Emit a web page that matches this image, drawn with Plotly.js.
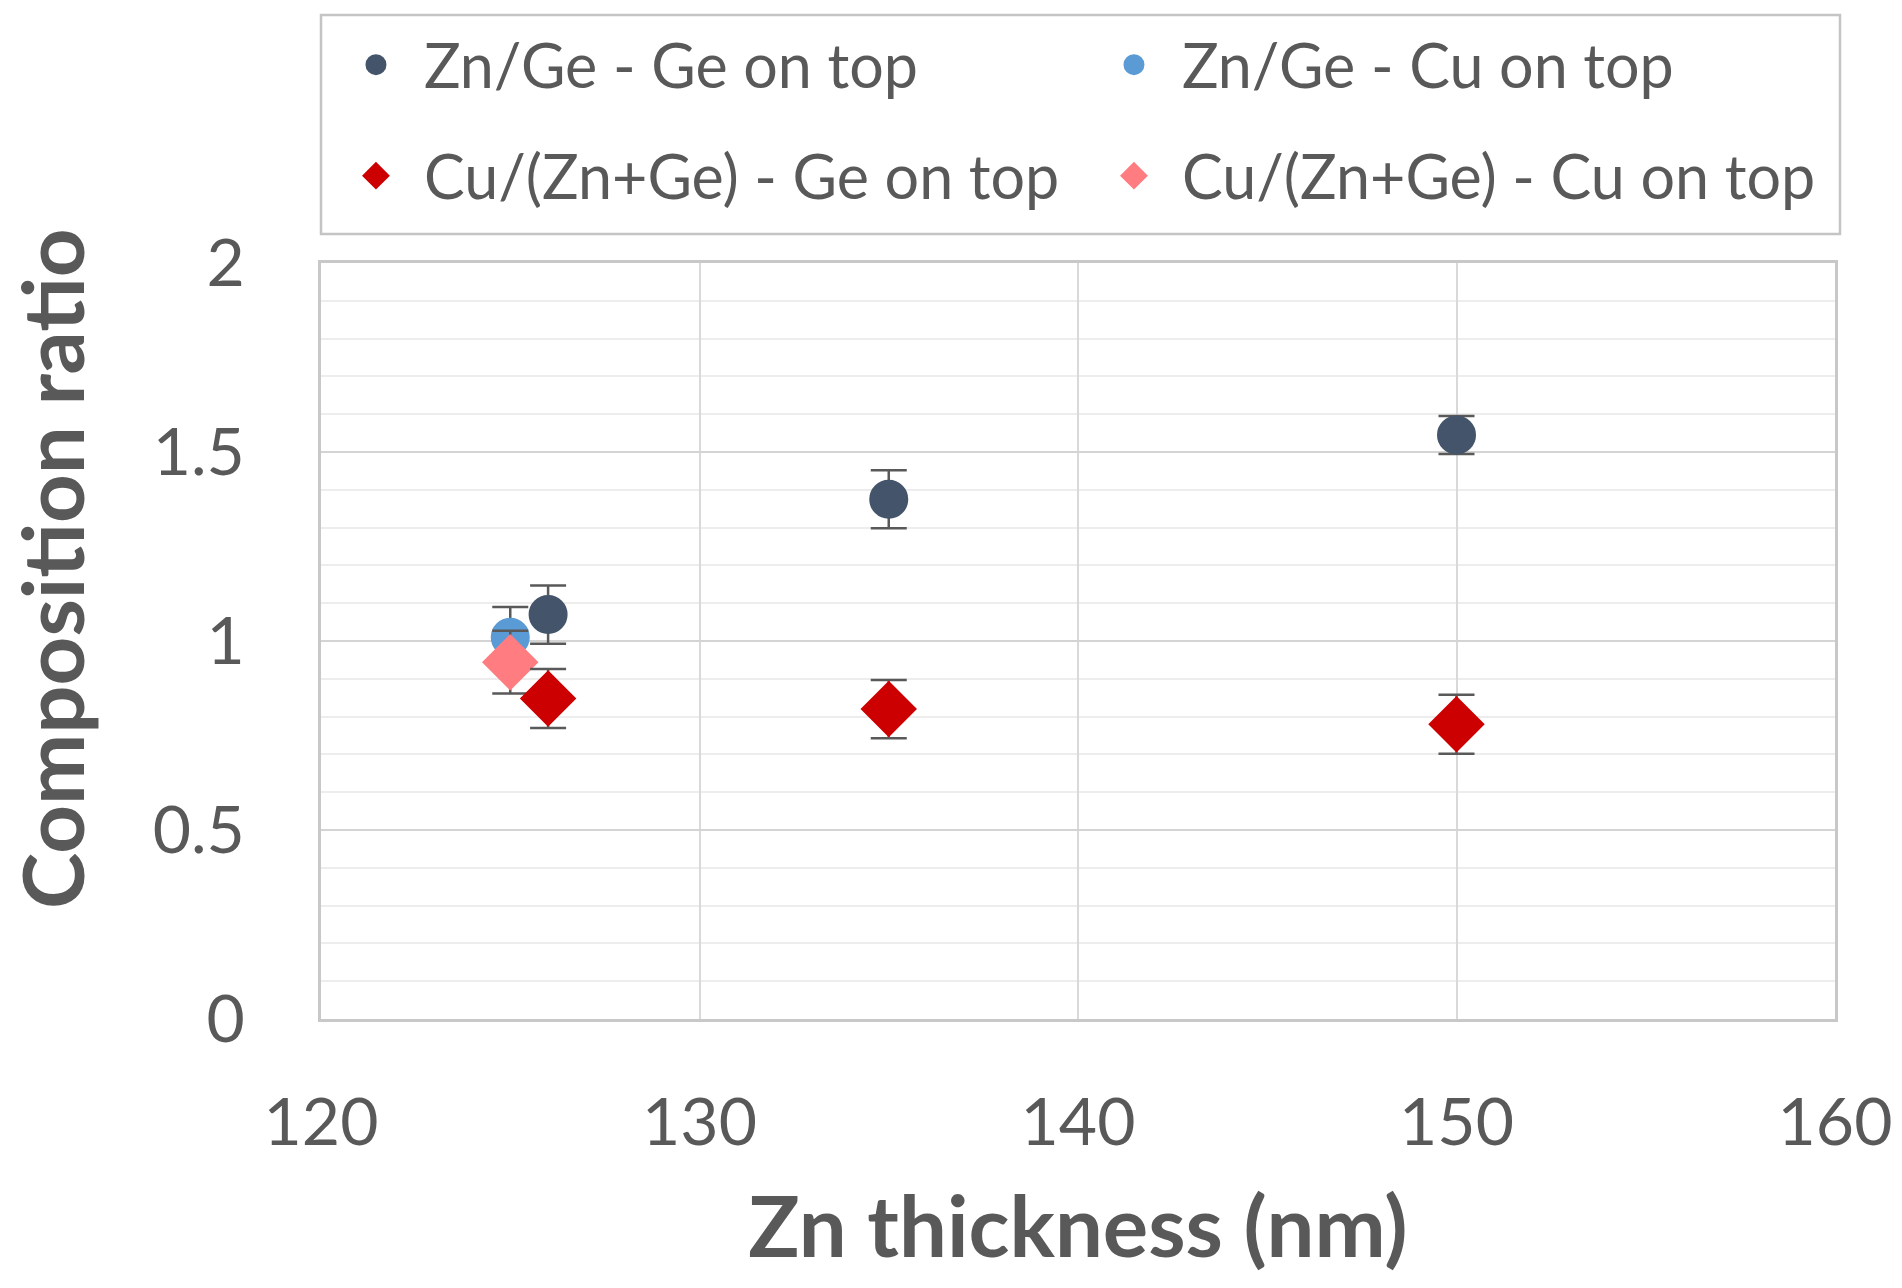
<!DOCTYPE html>
<html>
<head>
<meta charset="utf-8">
<script src="https://cdn.plot.ly/plotly-3.0.1.min.js"></script>
<style>html,body{margin:0;padding:0;background:#fff;}#chart{width:1902px;height:1288px;}</style>
</head>
<body>
<div id="chart"></div>
<script>
// Data
const seriesNames = ["Zn/Ge - Ge on top", "Zn/Ge - Cu on top", "Cu/(Zn+Ge) - Ge on top", "Cu/(Zn+Ge) - Cu on top"];
const znGeGeTopX = [126, 135, 150];
const znGeGeTopY = [1.07, 1.375, 1.545];
const znGeGeTopErr = [0.077, 0.077, 0.05];
const znGeCuTopX = [125];
const znGeCuTopY = [1.01];
const znGeCuTopErr = [0.08];
const cuZnGeGeTopX = [126, 135, 150];
const cuZnGeGeTopY = [0.848, 0.82, 0.78];
const cuZnGeGeTopErr = [0.078, 0.077, 0.078];
const cuZnGeCuTopX = [125];
const cuZnGeCuTopY = [0.944];
const cuZnGeCuTopErr = [0.083];
const xTickVals = [120, 130, 140, 150, 160];
const yTickVals = [0, 0.5, 1, 1.5, 2];
const yTickText = ["0", "0.5", "1", "1.5", "2"];

const errStyle = (arr) => ({type: 'data', array: arr, visible: true, color: '#595959', thickness: 2.5, width: 18});
const mk = (symbol, size, color) => ({symbol: symbol, size: size, color: color, line: {color: color, width: 5}});

const traces = [
  {x: znGeCuTopX, y: znGeCuTopY, name: seriesNames[1], type: 'scatter', mode: 'markers', legend: 'legend', legendrank: 2,
   marker: mk('circle', 34, '#5B9BD5'), error_y: errStyle(znGeCuTopErr)},
  {x: cuZnGeCuTopX, y: cuZnGeCuTopY, name: seriesNames[3], type: 'scatter', mode: 'markers', legend: 'legend2', legendrank: 2,
   marker: mk('diamond', 38, '#FF7C80'), error_y: errStyle(cuZnGeCuTopErr)},
  {x: znGeGeTopX, y: znGeGeTopY, name: seriesNames[0], type: 'scatter', mode: 'markers', legend: 'legend', legendrank: 1,
   marker: mk('circle', 34, '#44546A'), error_y: errStyle(znGeGeTopErr)},
  {x: cuZnGeGeTopX, y: cuZnGeGeTopY, name: seriesNames[2], type: 'scatter', mode: 'markers', legend: 'legend2', legendrank: 1,
   marker: mk('diamond', 38, '#CC0000'), error_y: errStyle(cuZnGeGeTopErr)}
];

const legendBase = {
  orientation: 'h', xanchor: 'left', yanchor: 'middle',
  bgcolor: 'rgba(0,0,0,0)', borderwidth: 0,
  font: {size: 61, color: '#595959'},
  entrywidth: 657, entrywidthmode: 'pixels', itemwidth: 86,
  traceorder: 'normal'
};

const layout = {
  width: 1902, height: 1288,
  margin: {l: 321, r: 67, t: 263, b: 269},
  paper_bgcolor: '#ffffff', plot_bgcolor: '#ffffff',
  font: {family: 'Lato, "Open Sans", sans-serif', color: '#595959'},
  showlegend: true,
  legend: Object.assign({}, legendBase, {x: 0.0046, y: 1.2619}),
  legend2: Object.assign({}, legendBase, {x: 0.0046, y: 1.1151}),
  shapes: [{type: 'rect', xref: 'paper', yref: 'paper', x0: 0, x1: 1.0033, y0: 1.0384, y1: 1.328,
            line: {color: '#c4c4c4', width: 2.5}, fillcolor: 'rgba(0,0,0,0)', layer: 'below'}],
  xaxis: {
    range: [120, 160], tickvals: xTickVals, ticktext: xTickVals.map(String),
    showgrid: true, gridcolor: '#d9d9d9', gridwidth: 2,
    showline: true, linecolor: '#c8c8c8', linewidth: 3, mirror: true,
    zeroline: false, ticks: '', ticklabelstandoff: 44,
    tickfont: {size: 66, color: '#595959'},
    title: {text: 'Zn thickness (nm)', font: {size: 85, color: '#595959', weight: 'bold'}, standoff: 40}
  },
  yaxis: {
    range: [0, 2], tickvals: yTickVals, ticktext: yTickText,
    showgrid: true, gridcolor: '#d4d4d4', gridwidth: 2,
    minor: {dtick: 0.1, showgrid: true, gridcolor: '#ededed', gridwidth: 2, ticks: ''},
    showline: true, linecolor: '#c8c8c8', linewidth: 3, mirror: true,
    zeroline: false, ticks: '', ticklabelstandoff: 60,
    tickfont: {size: 66, color: '#595959'},
    title: {text: '&nbsp;&nbsp;&nbsp;&nbsp;&nbsp;&nbsp;&nbsp;Composition ratio', font: {size: 85, color: '#595959', weight: 'bold'}, standoff: 50}
  }
};

Plotly.newPlot('chart', traces, layout, {staticPlot: true, displayModeBar: false});
</script>
</body>
</html>
